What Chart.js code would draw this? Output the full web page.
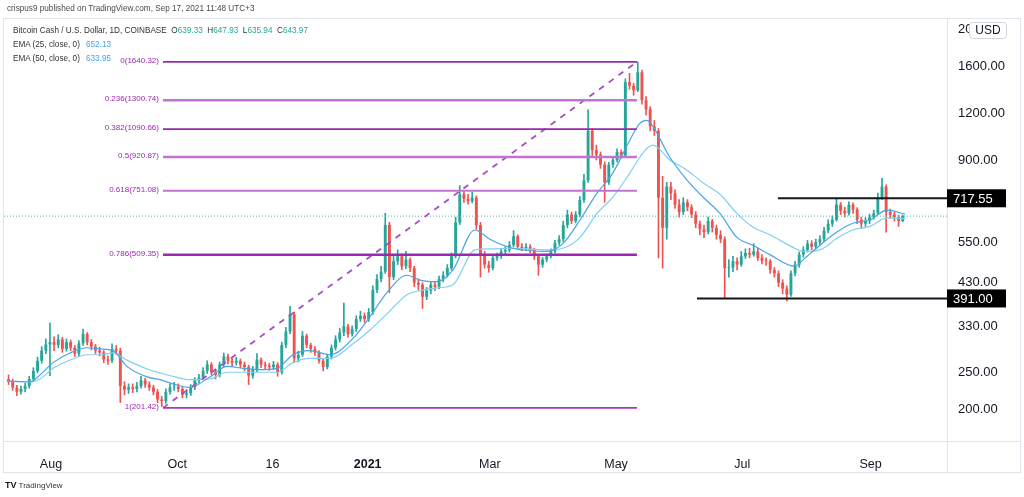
<!DOCTYPE html>
<html>
<head>
<meta charset="utf-8">
<script src="https://cdn.jsdelivr.net/npm/chart.js@4.4.1/dist/chart.umd.min.js"></script>
<style>
  body { margin: 0; background: #fff; font-family: "Liberation Sans", Arial, sans-serif; }
  #wrap { position: relative; width: 1024px; height: 497px; overflow: hidden; }
  #box { position: absolute; left: 0; top: 0; width: 1024px; height: 497px; }
  .frame { position: absolute; left: 3px; top: 18px; width: 1016px; height: 453px; border: 1px solid #e0e3eb; }
  .vsep { position: absolute; left: 947px; top: 18px; width: 1px; height: 455px; background: #e0e3eb; }
  .hsep { position: absolute; left: 3px; top: 441px; width: 1018px; height: 1px; background: #e0e3eb; }
  #pub { position: absolute; left: 7px; top: 4px; font-size: 8.2px; color: #4a4a4a; white-space: nowrap; }
  #legend { position: absolute; left: 13px; top: 24px; font-size: 8.2px; color: #333; line-height: 14px; white-space: nowrap; }
  .lbl { display: inline-block; width: 73px; }
  .g { color: #26a69a; }
  .b { color: #42a5f5; }
  #logo { position: absolute; left: 5px; top: 480px; font-size: 8px; color: #333; }
  #logo b { font-size: 9px; color: #131722; }
</style>
</head>
<body>
<div id="wrap">
  <div class="frame"></div>
  <div class="vsep"></div>
  <div class="hsep"></div>
  <div id="box"><canvas id="chart"></canvas></div>
  <div id="pub">crispus9 published on TradingView.com, Sep 17, 2021 11:48 UTC+3</div>
  <div id="legend">
    <div>Bitcoin Cash / U.S. Dollar, 1D, COINBASE&nbsp; O<span class="g">639.33</span>&nbsp; H<span class="g">647.93</span>&nbsp; L<span class="g">635.94</span>&nbsp; C<span class="g">643.97</span></div>
    <div><span class="lbl">EMA (25, close, 0)</span><span class="b">652.13</span></div>
    <div><span class="lbl">EMA (50, close, 0)</span><span class="b">633.95</span></div>
  </div>
  <div id="logo"><b>TV</b> TradingView</div>
</div>
<script>
// 2-day candles, x = days since Aug 1 2020
const firstCandleDay = -20.5;
const candleDays = 2;

const opens = [
  240,236,228,222,226,230,240,252,268,285,
  296,300,295,305,288,300,290,280,298,315,
  300,292,285,282,270,268,288,285,230,225,
  228,226,230,238,232,228,222,212,210,222,
  228,229,226,218,220,228,238,242,252,262,
  250,246,262,275,268,265,268,262,258,245,
  255,270,262,260,258,262,250,295,320,355,
  272,278,312,295,288,282,268,258,275,290,
  305,318,330,315,325,345,352,345,360,412,
  440,460,610,445,490,505,475,495,470,430,
  425,395,410,425,420,440,450,470,505,620,
  735,715,705,720,610,510,480,470,500,505,
  520,525,540,570,535,530,535,525,505,480,
  495,505,520,548,560,610,650,625,650,710,
  800,1080,960,935,880,790,880,905,950,930,
  1450,1420,1380,1540,1300,1230,1110,1080,720,600,
  770,740,690,660,700,680,650,615,595,585,
  625,600,575,560,470,472,490,480,505,515,
  510,520,500,492,490,465,455,430,415,400,
  455,480,510,525,545,535,550,560,590,615,
  630,690,665,655,690,670,630,615,625,640,
  655,720,770,660,650,640,625
];
const highs = [
  246,240,231,230,234,244,257,274,292,306,
  337,310,314,309,306,304,294,303,325,318,
  305,296,291,285,276,297,294,289,236,233,
  233,235,244,241,236,231,225,216,226,233,
  235,233,229,225,232,242,247,257,268,265,
  254,266,281,279,272,274,271,266,261,259,
  280,273,266,264,267,265,300,328,373,360,
  284,320,315,298,292,285,272,279,295,312,
  326,380,334,331,352,362,358,368,422,452,
  475,655,620,505,525,512,520,500,475,440,
  430,418,433,432,448,460,480,515,640,775,
  752,735,745,728,620,520,490,508,515,528,
  535,552,590,575,545,545,542,530,510,502,
  512,528,556,572,625,668,660,662,725,830,
  1226,1095,990,950,895,892,925,968,962,1480,
  1530,1440,1640,1560,1330,1250,1150,1095,820,790,
  790,755,712,720,712,690,662,625,610,640,
  632,610,590,568,495,505,500,520,528,530,
  545,530,510,500,495,472,462,438,422,462,
  490,518,535,556,555,560,572,602,630,645,
  717,700,680,702,698,678,640,638,652,668,
  740,810,778,672,660,648,648
];
const lows = [
  232,224,217,219,222,227,237,249,264,280,
  245,285,290,282,284,285,275,276,294,295,
  286,280,276,265,262,265,279,208,218,220,
  221,222,227,228,224,218,208,203,207,219,
  224,222,214,214,217,225,234,239,248,246,
  240,243,258,263,259,261,257,252,232,241,
  251,257,255,253,254,244,247,290,316,265,
  266,275,290,282,277,264,252,255,271,286,
  300,312,309,311,320,340,338,340,355,405,
  432,455,405,438,480,465,468,460,420,412,
  368,388,402,410,414,432,445,465,500,612,
  700,692,698,595,445,470,458,465,492,498,
  512,518,535,528,522,522,515,495,450,472,
  488,500,515,540,552,600,615,618,642,700,
  790,930,905,860,700,780,865,895,915,922,
  1390,1340,1370,1270,1190,1080,1050,500,470,560,
  712,675,640,650,665,638,600,575,565,578,
  585,560,548,390,445,460,465,475,498,500,
  505,492,482,478,455,445,420,402,385,396,
  448,472,502,518,525,528,540,552,582,605,
  625,650,640,648,655,615,598,605,615,632,
  650,712,584,635,625,605,622
];
const closes = [
  236,228,222,226,230,240,252,268,285,296,
  300,295,305,288,300,290,280,298,315,300,
  292,285,282,270,268,288,285,230,225,228,
  226,230,238,232,228,222,212,210,222,228,
  229,226,218,220,228,238,242,252,262,250,
  246,262,275,268,265,268,262,258,245,255,
  270,262,260,258,262,250,295,320,355,272,
  278,312,295,288,282,268,258,275,290,305,
  318,330,315,325,345,352,345,360,412,440,
  460,610,445,490,505,475,495,470,430,425,
  395,410,425,420,440,450,470,505,620,735,
  715,705,720,610,510,480,470,500,505,520,
  525,540,570,535,530,535,525,505,480,495,
  505,520,548,560,610,650,625,650,710,800,
  1080,960,935,880,790,880,905,950,930,1450,
  1420,1380,1540,1300,1230,1110,1080,720,600,770,
  740,690,660,700,680,650,615,595,585,625,
  600,575,560,470,472,490,480,505,515,510,
  520,500,492,490,465,455,430,415,400,455,
  480,510,525,545,535,550,560,590,615,630,
  690,665,655,690,670,630,615,625,640,655,
  720,770,660,650,640,625,644
];

const emaDays = [-21.3,-10,-5.3,1,9.2,17.4,23.7,30,36.7,46.4,52.7,60,67.1,76.8,85,92.8,101,109.2,116.9,125.1,
  134.8,145.9,154.1,162.3,172,178.3,186.5,194.2,204.8,212,223.2,239.6,247.3,255.6,263.8,271.5,279.7,284.5,287.9,290.8,
  299,307.2,315,323.2,331.4,339.1,347.3,359.4,363.3,371.5,379.7,387.4,395.7,403.9,412.6];
const ema25 = [237,236,246,265,281,290,288,285,259,243,239,232,228,243,259,256,254,256,278,285,
  278,307,350,405,450,437,433,465,592,560,530,520,545,629,740,837,1022,1130,1150,1110,
  920,802,723,655,566,540,510,475,494,540,585,617,629,668,652];
const ema50 = [237,236,240,256,269,278,278,281,269,255,249,243,239,240,250,250,250,250,265,272,
  272,297,323,356,400,410,417,425,525,528,530,525,530,566,655,723,837,920,970,990,
  905,852,788,735,655,603,575,530,520,525,563,592,605,637,634];

const fibRatios = ['0', '0.236', '0.382', '0.5', '0.618', '0.786', '1'];
const fibLevels = [1640.32, 1300.74, 1090.66, 920.87, 751.08, 509.35, 201.42];
const fibColors = ['#9c27b0', '#c175d0', '#9c27b0', '#c175d0', '#c175d0', '#9c27b0', '#a43bb8'];
const fibFrom = 54.1, fibTo = 283.1;

const lineLevels = [717.55, 391.00];
const lineFrom = [351.2, 312.1];
const lastPrice = 643.97;

const xMin = -22.7, xMax = 432.9;
const xTickDays = [0, 61, 107, 153, 212, 273, 334, 396];
const xTickLabels = ['Aug', 'Oct', '16', '2021', 'Mar', 'May', 'Jul', 'Sep'];
const yTicks = [200, 250, 330, 430, 550, 900, 1200, 1600, 2000];

const UP = '#26a69a', DOWN = '#ef5350';
const candleColors = closes.map((c, k) => c >= opens[k] ? UP : DOWN);
const bodies = closes.map((c, k) => ({ x: firstCandleDay + k * candleDays, y: [opens[k], c] }));
const wicks = closes.map((c, k) => ({ x: firstCandleDay + k * candleDays, y: [lows[k], highs[k]] }));

const datasets = [];
fibLevels.forEach((lv, i) => {
  datasets.push({ type: 'line', data: [{ x: fibFrom, y: lv }, { x: fibTo, y: lv }],
    borderColor: fibColors[i], borderWidth: i % 2 ? 2.5 : 1.8, pointRadius: 0, order: 0 });
});
datasets.push({ type: 'line', data: [{ x: fibFrom, y: fibLevels[6] }, { x: fibTo, y: fibLevels[0] }],
  borderColor: '#a64dc0', borderWidth: 1.8, borderDash: [6, 6], pointRadius: 0, order: 0 });
lineLevels.forEach((lv, i) => {
  datasets.push({ type: 'line', data: [{ x: lineFrom[i], y: lv }, { x: xMax, y: lv }],
    borderColor: '#131722', borderWidth: 2, pointRadius: 0, order: 0 });
});
datasets.push({ type: 'line', data: [{ x: xMin, y: lastPrice }, { x: xMax, y: lastPrice }],
  borderColor: '#4db6ac', borderWidth: 1, borderDash: [1, 2], pointRadius: 0, order: 0 });
datasets.push({ type: 'line', data: emaDays.map((d, i) => ({ x: d, y: ema25[i] })),
  borderColor: '#4aa3e6', borderWidth: 1.2, pointRadius: 0, cubicInterpolationMode: 'monotone', order: 1 });
datasets.push({ type: 'line', data: emaDays.map((d, i) => ({ x: d, y: ema50[i] })),
  borderColor: '#80d0f0', borderWidth: 1.2, pointRadius: 0, cubicInterpolationMode: 'monotone', order: 1 });
datasets.push({ type: 'bar', data: bodies, backgroundColor: candleColors, borderWidth: 0,
  grouped: false, categoryPercentage: 1, barPercentage: 0.7, order: 2 });
datasets.push({ type: 'bar', data: wicks, backgroundColor: candleColors, borderWidth: 0,
  grouped: false, barThickness: 1, order: 3 });

const overlay = {
  id: 'overlay',
  afterDraw(chart) {
    const { ctx, scales: { x, y } } = chart;
    ctx.save();
    // fib labels
    ctx.font = '8px "Liberation Sans", Arial, sans-serif';
    ctx.textAlign = 'right';
    ctx.textBaseline = 'alphabetic';
    fibLevels.forEach((lv, i) => {
      ctx.fillStyle = '#9c27b0';
      ctx.fillText(fibRatios[i] + '(' + lv.toFixed(2) + ')', x.getPixelForValue(fibFrom) - 4, y.getPixelForValue(lv) + 1);
    });
    // price boxes
    ctx.font = '13px "Liberation Sans", Arial, sans-serif';
    ctx.textAlign = 'left';
    ctx.textBaseline = 'middle';
    lineLevels.forEach(lv => {
      const py = y.getPixelForValue(lv);
      ctx.fillStyle = '#000';
      ctx.fillRect(947, py - 9, 59, 18);
      ctx.fillStyle = '#fff';
      ctx.fillText(lv.toFixed(2), 953, py + 1);
    });
    // USD badge
    ctx.fillStyle = '#fff';
    ctx.strokeStyle = '#d1d4dc';
    ctx.lineWidth = 1;
    ctx.beginPath();
    ctx.roundRect(969.5, 22.5, 37, 16, 3);
    ctx.fill();
    ctx.stroke();
    ctx.fillStyle = '#131722';
    ctx.font = '12px "Liberation Sans", Arial, sans-serif';
    ctx.textAlign = 'center';
    ctx.fillText('USD', 988, 31);
    ctx.restore();
  }
};

new Chart(document.getElementById('chart'), {
  type: 'bar',
  data: { datasets },
  plugins: [overlay],
  options: {
    responsive: true,
    maintainAspectRatio: false,
    animation: false,
    layout: { padding: { left: 4, top: 19, right: 4, bottom: 25 } },
    plugins: { legend: { display: false }, tooltip: { enabled: false } },
    scales: {
      x: {
        type: 'linear', min: xMin, max: xMax, offset: false,
        grid: { display: false }, border: { display: false },
        afterBuildTicks: s => { s.ticks = xTickDays.map(v => ({ value: v })); },
        afterFit: s => { s.height = 31; },
        ticks: {
          autoSkip: false, maxRotation: 0, padding: 8, color: '#131722',
          font: c => ({ family: '"Liberation Sans", Arial, sans-serif', size: 12.5,
            weight: c.tick && c.tick.value === 153 ? 'bold' : 'normal' }),
          callback: v => { const i = xTickDays.indexOf(v); return i < 0 ? '' : xTickLabels[i]; }
        }
      },
      y: {
        type: 'logarithmic', position: 'right', min: 164.8, max: 2127,
        grid: { display: false, drawTicks: false }, border: { display: false },
        afterBuildTicks: s => { s.ticks = yTicks.map(v => ({ value: v })); },
        afterFit: s => { s.width = 73; },
        ticks: {
          padding: 11, color: '#131722',
          font: { family: '"Liberation Sans", Arial, sans-serif', size: 13 },
          callback: v => Number(v).toFixed(2)
        }
      }
    }
  }
});
</script>
</body>
</html>
